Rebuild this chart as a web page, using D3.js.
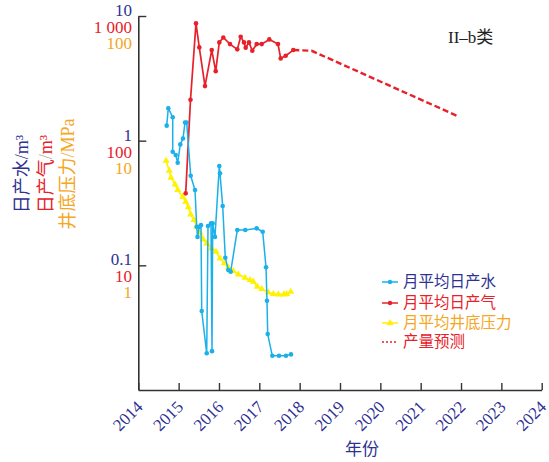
<!DOCTYPE html>
<html><head><meta charset="utf-8">
<script src="https://cdn.jsdelivr.net/npm/d3@7"></script>
<style>body{margin:0;background:#fff}svg{display:block}</style>
</head><body>
<svg id="c" width="549" height="462"></svg>
<script>
const waterYears = [2014.704, 2014.744, 2014.853, 2014.853, 2014.927, 2014.977, 2015.041, 2015.108, 2015.158, 2015.200, 2015.299, 2015.406, 2015.448, 2015.468, 2015.512, 2015.554, 2015.572, 2015.696, 2015.728, 2015.802, 2015.827, 2015.844, 2015.901, 2016.008, 2016.025, 2016.092, 2016.157, 2016.231, 2016.290, 2016.454, 2016.652, 2016.935, 2017.084, 2017.166, 2017.190, 2017.208, 2017.322, 2017.488, 2017.661, 2017.785];
const waterValues = [1.32, 1.82, 1.54, 0.815, 0.767, 0.665, 0.933, 1.04, 1.40, 1.40, 0.523, 0.402, 0.204, 0.169, 0.204, 0.210, 0.043, 0.0197, 0.207, 0.217, 0.0205, 0.217, 0.169, 0.625, 0.547, 0.299, 0.115, 0.0916, 0.0889, 0.192, 0.192, 0.198, 0.186, 0.0964, 0.052, 0.0281, 0.0188, 0.0188, 0.0188, 0.0193];
const gasYears = [2015.175, 2015.294, 2015.430, 2015.512, 2015.653, 2015.820, 2015.919, 2016.008, 2016.107, 2016.273, 2016.454, 2016.538, 2016.620, 2016.662, 2016.744, 2016.826, 2016.935, 2017.059, 2017.247, 2017.463, 2017.530, 2017.654, 2017.842];
const gasValues = [37.8, 213, 872, 560, 274, 533, 361, 614, 673, 595, 540, 681, 614, 556, 614, 526, 595, 595, 649, 595, 457, 480, 533];
const forecastYears = [2017.842, 2018.298, 2021.925];
const forecastValues = [533, 526, 157];
const pressureYears = [2014.687, 2014.768, 2014.811, 2014.910, 2014.977, 2015.101, 2015.175, 2015.239, 2015.299, 2015.381, 2015.448, 2015.530, 2015.611, 2015.696, 2015.820, 2015.926, 2016.025, 2016.132, 2016.231, 2016.355, 2016.479, 2016.645, 2016.769, 2016.851, 2016.950, 2017.059, 2017.223, 2017.347, 2017.471, 2017.612, 2017.679, 2017.778];
const pressureValues = [6.90, 5.74, 5.04, 4.46, 4.02, 3.55, 3.24, 2.92, 2.56, 2.31, 2.04, 1.826, 1.616, 1.501, 1.369, 1.285, 1.138, 1.038, 0.964, 0.90, 0.847, 0.795, 0.762, 0.739, 0.674, 0.646, 0.607, 0.589, 0.585, 0.585, 0.589, 0.614];
const yearTicks = [2014, 2015, 2016, 2017, 2018, 2019, 2020, 2021, 2022, 2023, 2024];
const waterTicks = [10, 1, 0.1];
const waterTickLabels = ["10", "1", "0.1"];
const gasTicks = [1000, 100, 10];
const gasTickLabels = ["1 000", "100", "10"];
const pressureTicks = [100, 10, 1];
const pressureTickLabels = ["100", "10", "1"];
const legendLabels = ["月平均日产水", "月平均日产气", "月平均井底压力", "产量预测"];

const NAVY = "#2e3192", RED = "#e8202a", ORANGE = "#f5a623", WATER = "#1ab0ea", YEL = "#fff100";
const SERIF = "'Liberation Serif','Noto Sans CJK SC',serif";
const svg = d3.select("#c");

const x = d3.scaleLinear().domain([2014, 2024]).range([138.3, 541.7]);
const yW = d3.scaleLog().domain([0.01, 10]).range([390, 16]);
const yG = d3.scaleLog().domain([1, 1000]).range([390, 16]);
const yP = d3.scaleLog().domain([0.1, 100]).range([390, 16]);

// Axes
const gx = svg.append("g").attr("transform", "translate(0,390)")
  .call(d3.axisBottom(x).tickValues(yearTicks).tickSizeInner(-7).tickSizeOuter(0).tickFormat(d3.format("d")));
gx.select(".domain").attr("stroke", "#333").attr("stroke-width", 1.6);
gx.selectAll(".tick line").attr("stroke", "#333").attr("stroke-width", 1.4);
gx.selectAll(".tick text").attr("fill", NAVY).attr("font-family", SERIF).attr("font-size", 17)
  .attr("text-anchor", "end").attr("y", 0).attr("dy", 0)
  .attr("transform", "translate(5,18) rotate(-45)");

const gy = svg.append("g").attr("transform", "translate(138.3,0)")
  .call(d3.axisLeft(yW).tickValues(waterTicks).tickSizeInner(-8).tickSizeOuter(0).tickFormat(""));
gy.select(".domain").attr("stroke", "#333").attr("stroke-width", 1.6);
gy.selectAll(".tick line").attr("stroke", "#333").attr("stroke-width", 1.4);

const lab = svg.append("g").attr("font-family", SERIF).attr("font-size", 17).attr("text-anchor", "end");
waterTicks.forEach((v, i) => lab.append("text").attr("x", 132).attr("y", yW(v) + 0).attr("fill", NAVY).text(waterTickLabels[i]));
gasTicks.forEach((v, i) => lab.append("text").attr("x", 132).attr("y", yG(v) + 17).attr("fill", RED).text(gasTickLabels[i]));
pressureTicks.forEach((v, i) => lab.append("text").attr("x", 132).attr("y", yP(v) + 33).attr("fill", ORANGE).text(pressureTickLabels[i]));

// Y titles
function ytitle(xp, main, unit, col, slashCol) {
  const t = svg.append("text").attr("transform", `translate(${xp},174) rotate(-90)`)
    .attr("text-anchor", "middle").attr("font-family", SERIF).attr("font-size", 18).attr("fill", col);
  t.append("tspan").text(main);
  t.append("tspan").attr("fill", slashCol).text("/");
  t.append("tspan").text(unit);
}
ytitle(28, "日产水", "m³", NAVY, NAVY);
ytitle(52, "日产气", "m³", RED, "#aaa");
ytitle(74, "井底压力", "MPa", ORANGE, ORANGE);

// X title
svg.append("text").attr("x", 362).attr("y", 455).attr("text-anchor", "middle")
  .attr("font-family", SERIF).attr("font-size", 17).attr("fill", NAVY).text("年份");

// Class label
svg.append("text").attr("x", 448).attr("y", 43).attr("font-family", SERIF).attr("font-size", 17)
  .attr("fill", "#222").text("II–b类");

// Series
const water = waterYears.map((t, i) => [t, waterValues[i]]);
const gas = gasYears.map((t, i) => [t, gasValues[i]]);
const fc = forecastYears.map((t, i) => [t, forecastValues[i]]);
const pr = pressureYears.map((t, i) => [t, pressureValues[i]]);

const lw = d3.line().x(d => x(d[0])).y(d => yW(d[1]));
const lg = d3.line().x(d => x(d[0])).y(d => yG(d[1]));
const lp = d3.line().x(d => x(d[0])).y(d => yP(d[1]));

const tri = d3.symbol().type(d3.symbolTriangle).size(22);

svg.append("path").attr("d", lp(pr)).attr("fill", "none").attr("stroke", YEL).attr("stroke-width", 1.6);
svg.selectAll(".pt").data(pr).join("path").attr("class", "pt").attr("d", tri)
  .attr("transform", d => `translate(${x(d[0])},${yP(d[1])})`).attr("fill", YEL);

svg.append("path").attr("d", lg(fc)).attr("fill", "none").attr("stroke", RED).attr("stroke-width", 2.4).attr("stroke-dasharray", "6,3");
svg.append("path").attr("d", lg(gas)).attr("fill", "none").attr("stroke", RED).attr("stroke-width", 1.7);
svg.selectAll(".gp").data(gas).join("circle").attr("class", "gp").attr("cx", d => x(d[0])).attr("cy", d => yG(d[1])).attr("r", 2.3).attr("fill", RED);

svg.append("path").attr("d", lw(water)).attr("fill", "none").attr("stroke", WATER).attr("stroke-width", 1.5);
svg.selectAll(".wp").data(water).join("circle").attr("class", "wp").attr("cx", d => x(d[0])).attr("cy", d => yW(d[1])).attr("r", 2.3).attr("fill", WATER);

// Legend
const lgY = [282, 303, 323, 342];
const lgCols = [NAVY, RED, ORANGE, RED];
const leg = svg.append("g");
legendLabels.forEach((s, i) => {
  const yy = lgY[i];
  const col = [WATER, RED, YEL, RED][i];
  const ln = leg.append("line").attr("x1", 382).attr("x2", 398).attr("y1", yy).attr("y2", yy).attr("stroke", col).attr("stroke-width", i === 3 ? 1.6 : 1.5);
  if (i === 3) ln.attr("stroke-dasharray", "2,2");
  if (i < 2) leg.append("circle").attr("cx", 390).attr("cy", yy).attr("r", 2.2).attr("fill", col);
  if (i === 2) leg.append("path").attr("d", tri).attr("transform", `translate(390,${yy})`).attr("fill", col);
  leg.append("text").attr("x", 403).attr("y", yy + 5).attr("font-family", SERIF).attr("font-size", 15.5).attr("fill", lgCols[i]).text(s);
});
</script>
</body></html>
